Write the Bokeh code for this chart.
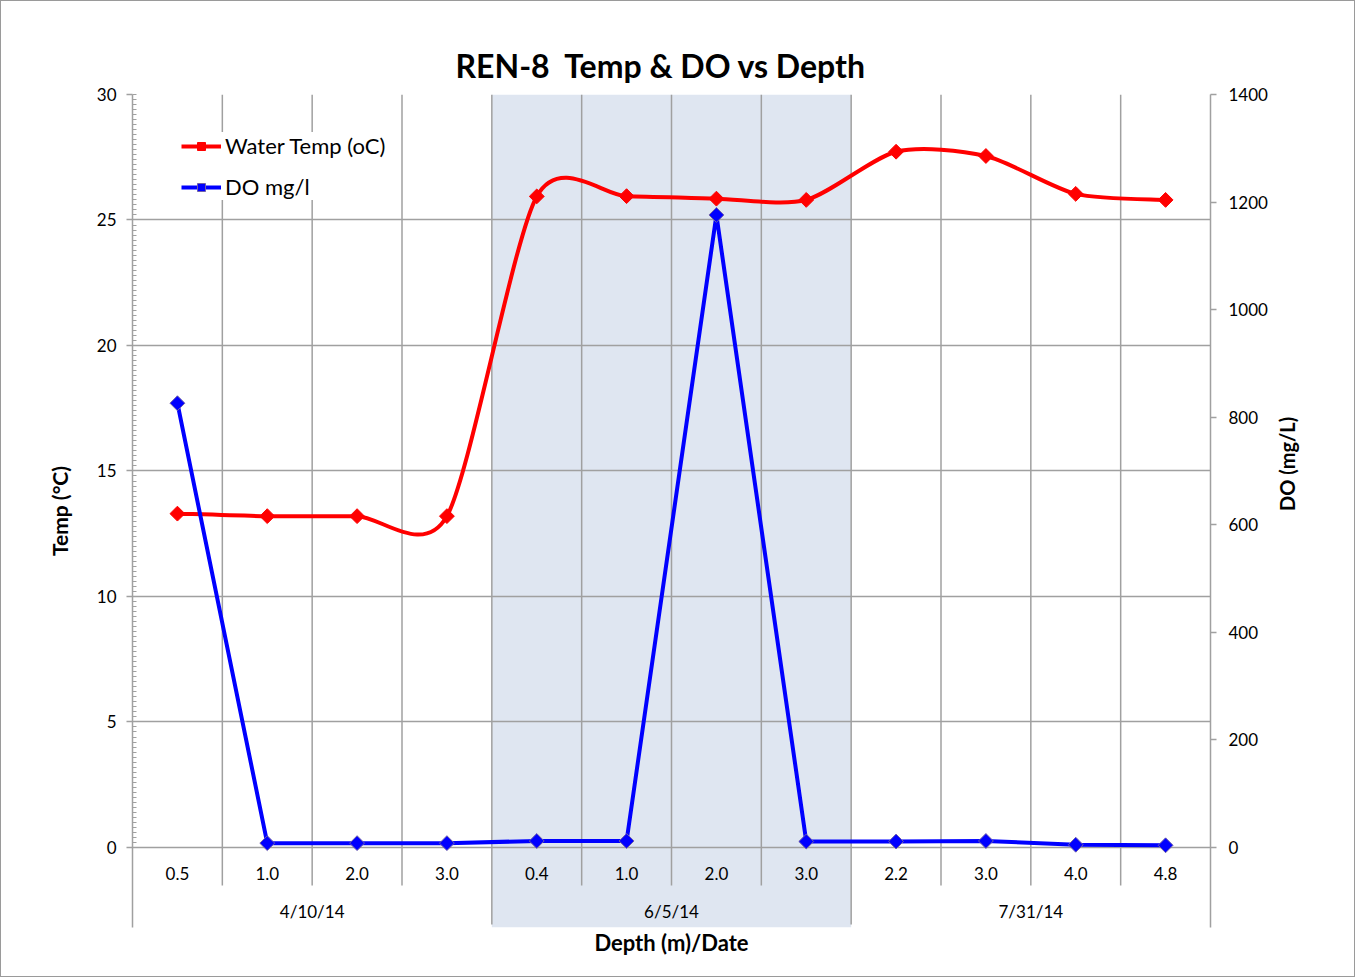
import numpy as np
from bokeh.plotting import figure
from bokeh.models import (Range1d, LinearAxis, FixedTicker, BoxAnnotation, Legend,
                          LegendItem)
from bokeh.core.properties import value
from bokeh.embed import file_html
from bokeh.resources import INLINE

# ---------------- data ----------------
depth_labels = ["0.5", "1.0", "2.0", "3.0", "0.4", "1.0", "2.0", "3.0", "2.2", "3.0", "4.0", "4.8"]
dates = ["4/10/14", "6/5/14", "7/31/14"]
group_sizes = [4, 4, 4]
water_temp = [13.3, 13.2, 13.2, 13.2, 25.94, 25.95, 25.85, 25.8, 27.72, 27.55, 26.04, 25.8]
do_mgl = [826, 8, 8, 8, 12, 12, 1176, 11, 11, 12, 5, 4]
temp_ticks = [0, 5, 10, 15, 20, 25, 30]
do_ticks = [0, 200, 400, 600, 800, 1000, 1200, 1400]
shaded_group = 1

FONT = "Lato"
GRID = "#a0a0a0"

n = len(depth_labels)
xs = [i + 0.5 for i in range(n)]
y_lo = -3.19
y_hi = 30
do_hi = 1400
do_lo = y_lo * do_hi / y_hi

p = figure(width=1355, height=977, output_backend="svg", toolbar_location=None,
           x_range=Range1d(0, n), y_range=Range1d(y_lo, y_hi),
           x_axis_location=None, min_border_left=131, min_border_right=146,
           min_border_top=93, min_border_bottom=51)
p.outline_line_color = None
p.background_fill_color = "white"
p.styles = {"border": "1px solid #9a9a9a"}

# title
p.title.text = "REN-8\u00a0 Temp & DO vs Depth"
p.title.align = "left"
p.title.offset = 323
p.title.standoff = 19
p.title.text_font = FONT
p.title.text_font_size = "32px"
p.title.text_font_style = "bold"
p.title.text_color = "black"

# grids
p.xgrid.visible = False
p.ygrid.ticker = FixedTicker(ticks=temp_ticks)
p.ygrid.grid_line_color = GRID
p.ygrid.grid_line_width = 1.5

# shaded group
starts = np.cumsum([0] + group_sizes)
box = BoxAnnotation(left=starts[shaded_group], right=starts[shaded_group + 1],
                    fill_color="#dfe6f1", fill_alpha=1.0, line_color=None, level="image")
p.add_layout(box)

# category boundaries (vertical grid lines + ticks below axis)
group_edges = set(int(s) for s in starts)
inner = [b for b in range(1, n) if b not in group_edges]
grp_inner = [int(s) for s in starts[1:-1]]
p.segment(x0=inner, y0=[-1.52] * len(inner), x1=inner, y1=[y_hi] * len(inner),
          line_color=GRID, line_width=1.5)
p.segment(x0=grp_inner, y0=[-3.07] * len(grp_inner), x1=grp_inner, y1=[y_hi] * len(grp_inner),
          line_color=GRID, line_width=1.5)

# category labels
p.text(x=xs, y=[-1.04] * n, text=depth_labels, text_align="center", text_baseline="middle",
       text_font=value(FONT), text_font_size="17px", text_color="black")
centers = [(starts[i] + starts[i + 1]) / 2 for i in range(len(dates))]
p.text(x=centers, y=[-2.55] * len(dates), text=dates, text_align="center", text_baseline="middle",
       text_font=value(FONT), text_font_size="17px", text_color="black")

# left axis
ya = p.yaxis[0]
ya.ticker = FixedTicker(ticks=temp_ticks, minor_ticks=list(np.round(np.arange(0, 30.01, 0.2), 2)))
ya.axis_line_color = GRID
ya.axis_line_width = 1.5
ya.major_tick_line_color = GRID
ya.major_tick_line_width = 1.5
ya.major_tick_out = 6
ya.major_tick_in = 0
ya.minor_tick_line_color = GRID
ya.minor_tick_in = 4
ya.minor_tick_out = 0
ya.major_label_text_font = FONT
ya.major_label_text_font_size = "17px"
ya.major_label_text_color = "black"
ya.major_label_standoff = 10
ya.axis_label = "Temp (°C)"
ya.axis_label_text_font = FONT
ya.axis_label_text_font_size = "21px"
ya.axis_label_text_font_style = "bold"
ya.axis_label_text_color = "black"
ya.axis_label_standoff = 22

# right axis
p.extra_y_ranges = {"do": Range1d(do_lo, do_hi)}
ra = LinearAxis(y_range_name="do", ticker=FixedTicker(ticks=do_ticks, minor_ticks=[]))
ra.axis_line_color = GRID
ra.axis_line_width = 1.5
ra.major_tick_line_color = GRID
ra.major_tick_line_width = 1.5
ra.major_tick_out = 6
ra.major_tick_in = 0
ra.minor_tick_line_color = None
ra.major_label_text_font = FONT
ra.major_label_text_font_size = "17px"
ra.major_label_text_color = "black"
ra.major_label_standoff = 12
ra.axis_label = "DO (mg/L)"
ra.axis_label_text_font = FONT
ra.axis_label_text_font_size = "20px"
ra.axis_label_text_font_style = "bold"
ra.axis_label_text_color = "black"
ra.axis_label_standoff = 16
try:
    ra.axis_label_orientation = np.pi / 2
except Exception:
    pass
p.add_layout(ra, "right")

# bottom axis title only
ba = LinearAxis(ticker=FixedTicker(ticks=[]))
ba.axis_line_color = None
ba.major_tick_line_color = None
ba.minor_tick_line_color = None
ba.major_label_text_font_size = "0px"
ba.axis_label = "Depth (m)/Date"
ba.axis_label_text_font = FONT
ba.axis_label_text_font_size = "22px"
ba.axis_label_text_font_style = "bold"
ba.axis_label_text_color = "black"
ba.axis_label_standoff = 1
p.add_layout(ba, "below")

# smoothed temperature line (Catmull-Rom style cubic Bezier, Excel-like tension)
k = 0.13
x0, y0, x1, y1, cx0, cy0, cx1, cy1 = [], [], [], [], [], [], [], []
for i in range(n - 1):
    pa = i - 1 if i > 0 else i
    pd = i + 2 if i + 2 < n else i + 1
    x0.append(xs[i]); y0.append(water_temp[i])
    x1.append(xs[i + 1]); y1.append(water_temp[i + 1])
    cx0.append(xs[i] + (xs[i + 1] - xs[pa]) * k)
    cy0.append(water_temp[i] + (water_temp[i + 1] - water_temp[pa]) * k)
    cx1.append(xs[i + 1] - (xs[pd] - xs[i]) * k)
    cy1.append(water_temp[i + 1] - (water_temp[pd] - water_temp[i]) * k)
temp_curve = p.bezier(x0=x0, y0=y0, x1=x1, y1=y1, cx0=cx0, cy0=cy0, cx1=cx1, cy1=cy1,
                      line_color="#ff0000", line_width=4)
temp_pts = p.scatter(x=xs, y=water_temp, marker="square", angle=np.pi / 4, size=10.5,
                     fill_color="#ff0000", line_color="#ff0000", line_width=1)

# DO line
do_line = p.line(x=xs, y=do_mgl, y_range_name="do", line_color="#0000ff", line_width=4)
do_pts = p.scatter(x=xs, y=do_mgl, y_range_name="do", marker="square", angle=np.pi / 4, size=10.5,
                   fill_color="#0000ff", line_color="#7060a8", line_width=1)

legend = Legend(items=[LegendItem(label="Water Temp (oC)", renderers=[temp_curve, temp_pts]),
                       LegendItem(label="DO mg/l", renderers=[do_line, do_pts])],
                location=(49, 727))
legend.label_text_font = FONT
legend.label_text_font_size = "22px"
legend.label_text_color = "black"
legend.glyph_width = 40
legend.glyph_height = 20
legend.label_height = 20
legend.label_standoff = 4
legend.spacing = 14
legend.padding = 10
legend.margin = 0
legend.border_line_color = None
legend.background_fill_color = "white"
legend.background_fill_alpha = 1.0
p.add_layout(legend)

open("out.html", "w").write(file_html(p, INLINE))
